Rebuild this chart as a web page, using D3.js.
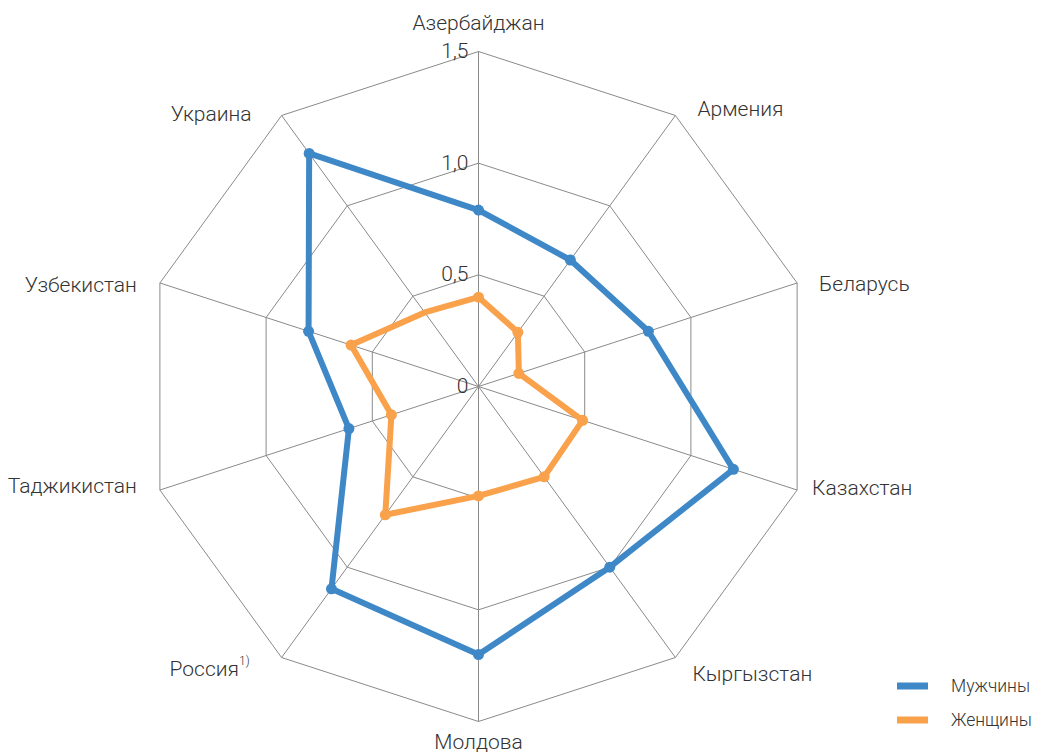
<!DOCTYPE html>
<html><head><meta charset="utf-8">
<script src="https://cdn.jsdelivr.net/npm/d3@7"></script>
<style>body{margin:0;background:#fff}svg{display:block}</style>
</head><body><svg id="c" width="1039" height="754"></svg>
<script>
const countries = ["Азербайджан","Армения","Беларусь","Казахстан","Кыргызстан","Молдова","Россия","Таджикистан","Узбекистан","Украина"];
const footnotes = ["","","","","","","1)","","",""];
const men   = [0.79, 0.70, 0.80, 1.20, 1.00, 1.20, 1.12, 0.61, 0.80, 1.29];
const women = [0.40, 0.30, 0.19, 0.49, 0.50, 0.49, 0.71, 0.41, 0.60, 0.41];
const womenMarkers = [true,true,true,true,true,true,true,true,true,false];
const tickValues = [0, 0.5, 1.0, 1.5];
const tickLabels = ["0","0,5","1,0","1,5"];
const seriesNames = ["Мужчины","Женщины"];
const seriesColors = ["#3f88c8","#f9a14b"];

const svg = d3.select("#c");
const cx = 478.5, cy = 386.5;
const r = d3.scaleLinear().domain([0,1.5]).range([0,335]);
const n = countries.length;
const ang = d3.scaleLinear().domain([0,n]).range([0,2*Math.PI]);
const pt = (i,v)=>[cx + r(v)*Math.sin(ang(i)), cy - r(v)*Math.cos(ang(i))];
const font = "Roboto, 'Liberation Sans', sans-serif";

// grid polygons
const g = svg.append("g");
tickValues.filter(t=>t>0).forEach(t=>{
  g.append("path")
   .attr("d", d3.line()(d3.range(n).map(i=>pt(i,t))) + "Z")
   .attr("fill","none").attr("stroke","#8a8a8a").attr("stroke-width",1);
});
d3.range(n).forEach(i=>{
  const [x,y]=pt(i,1.5);
  g.append("line").attr("x1",cx).attr("y1",cy).attr("x2",x).attr("y2",y)
   .attr("stroke","#8a8a8a").attr("stroke-width",1);
});

// tick labels
tickValues.forEach((t,k)=>{
  svg.append("text").attr("x",cx-10).attr("y",cy - r(t)+1)
   .attr("text-anchor","end").attr("dominant-baseline","middle")
   .attr("font-family",font).attr("font-weight",300).attr("font-size",21)
   .attr("fill","#333").text(tickLabels[k]);
});

// axis labels (layout offsets per direction)
const labelDx = [0, 22, 22, 15, 17, 0, -32, -23, -23, -30];
const labelDy = [-28, -5, 2, -1, 17, 21, 12, -3, 3, 0];
countries.forEach((c,i)=>{
  const [x,y]=pt(i,1.5);
  const s = Math.sin(ang(i));
  const anchor = Math.abs(s)<0.1 ? "middle" : (s>0 ? "start" : "end");
  const t = svg.append("text").attr("x",x+labelDx[i]).attr("y",y+labelDy[i])
   .attr("text-anchor",anchor).attr("dominant-baseline","middle")
   .attr("font-family",font).attr("font-weight",300).attr("font-size",21)
   .attr("fill","#333");
  t.append("tspan").text(c);
  if(footnotes[i]) t.append("tspan").attr("font-size",12).attr("dy",-8).text(footnotes[i]);
});

// series
const series = [men, women];
const markers = [countries.map(()=>true), womenMarkers];
[1,0].forEach(s=>{
  const pts = series[s].map((v,i)=>pt(i,v));
  svg.append("path").attr("d", d3.line()(pts)+"Z")
   .attr("fill","none").attr("stroke",seriesColors[s]).attr("stroke-width",6)
   .attr("stroke-linejoin","round");
  svg.selectAll(null).data(pts.filter((p,i)=>markers[s][i])).enter().append("circle")
   .attr("cx",d=>d[0]).attr("cy",d=>d[1]).attr("r",5.5).attr("fill",seriesColors[s]);
});

// legend
const ly = [686, 720];
seriesNames.forEach((name,k)=>{
  svg.append("line").attr("x1",897).attr("x2",928).attr("y1",ly[k]).attr("y2",ly[k])
   .attr("stroke",seriesColors[k]).attr("stroke-width",7);
  svg.append("text").attr("x",951).attr("y",ly[k]+1).attr("dominant-baseline","middle")
   .attr("font-family",font).attr("font-weight",300).attr("font-size",17.5)
   .attr("fill","#333").text(name);
});
</script></body></html>
